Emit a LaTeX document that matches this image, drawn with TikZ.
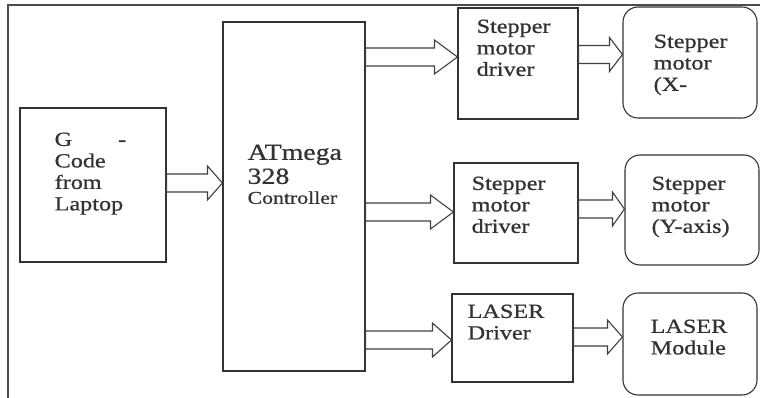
\documentclass[tikz,border=0pt]{standalone}
\usepackage{fontspec}
\setmainfont{Liberation Serif}[FakeStretch=1.21, FakeBold=0.8]
\usetikzlibrary{positioning, calc}

\tikzset{
  blk/.style={draw=black!80, line width=1.1pt, rectangle, inner sep=0pt},
  rblk/.style={blk, rounded corners=15pt},
  lbl/.style={inner sep=0pt, align=left, text=black!80, font=\fontsize{20}{21.5}\selectfont},
  fat/.style={draw=black!75, line width=1.1pt, fill=white}
}

% block arrow: from node, to node, y of its axis, head length
\newcommand{\fatarrow}[4]{%
  \draw[fat] let \p1=(#1.east |- 0,#3), \p2=(#2.west |- 0,#3) in
    (\x1,\y1+9pt) -- (\x2-#4pt,\y1+9pt) -- (\x2-#4pt,\y1+17pt) -- (\p2)
    -- (\x2-#4pt,\y1-17pt) -- (\x2-#4pt,\y1-9pt) -- (\x1,\y1-9pt) -- cycle;}

\begin{document}
\begin{tikzpicture}[x=1pt, y=-1pt]
  \useasboundingbox (0,0) rectangle (760,398);
  % frame
  \draw[gray!60!black, line width=1.6pt] (764,5) -- (8,5) -- (8,402);

  % blocks
  \node[blk, minimum width=146pt, minimum height=154pt] (gcode) at (93,185) {};
  \node[blk, minimum width=142pt, minimum height=349pt] (atmega) at (294,196.5) {};
  \node[blk, minimum width=120pt, minimum height=111pt] (drvx) at (518,63.5) {};
  \node[rblk, minimum width=134pt, minimum height=111pt] (motx) at (690,62.5) {};
  \node[blk, minimum width=124pt, minimum height=100pt] (drvy) at (516,213) {};
  \node[rblk, minimum width=134pt, minimum height=110pt] (moty) at (692,210) {};
  \node[blk, minimum width=121pt, minimum height=88pt] (drvl) at (512.5,338) {};
  \node[rblk, minimum width=134pt, minimum height=102pt] (laser) at (690,344) {};

  % texts
  \node[lbl, below right=25pt and 35pt of gcode.north west] (gcodetxt) {G\hspace{46pt}-\\Code\\from\\Laptop};
  \node[lbl, font=\fontsize{23}{24}\selectfont, below right=123pt and 25pt of atmega.north west] (atmegatxt)
    {ATmega\\328\\[-4pt]{\fontsize{18}{20}\selectfont Controller}};
  \node[lbl, below right=12pt and 19pt of drvx.north west] (drvxtxt) {Stepper\\motor\\driver};
  \node[lbl, below right=28pt and 31pt of motx.north west] (motxtxt) {Stepper\\motor\\(X-};
  \node[lbl, below right=14pt and 18pt of drvy.north west] (drvytxt) {Stepper\\motor\\driver};
  \node[lbl, below right=22pt and 27pt of moty.north west] (motytxt) {Stepper\\motor\\(Y-axis)};
  \node[lbl, below right=11pt and 16pt of drvl.north west] (drvltxt) {LASER\\Driver};
  \node[lbl, below right=27pt and 28pt of laser.north west] (lasertxt) {LASER\\Module};

  % arrows
  \fatarrow{gcode}{atmega}{183}{15}
  \fatarrow{atmega}{drvx}{57}{23}
  \fatarrow{drvx}{motx}{54.5}{13}
  \fatarrow{atmega}{drvy}{212}{23}
  \fatarrow{drvy}{moty}{209}{12}
  \fatarrow{atmega}{drvl}{340}{19}
  \fatarrow{drvl}{laser}{337}{15}
\end{tikzpicture}
\end{document}
